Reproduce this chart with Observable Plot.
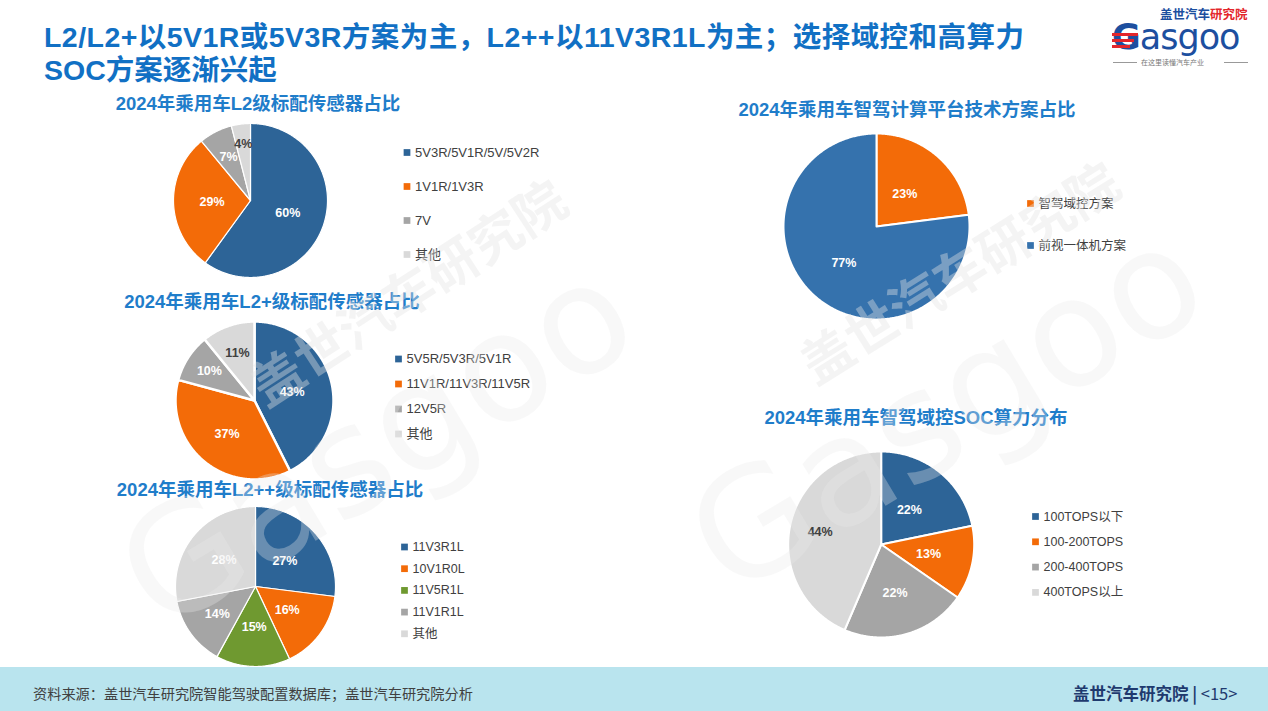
<!DOCTYPE html>
<html><head><meta charset="utf-8">
<script src="https://cdn.jsdelivr.net/npm/d3@7"></script>
<script src="https://cdn.jsdelivr.net/npm/@observablehq/plot@0.6"></script>
<style>
html,body{margin:0;padding:0;background:#fff;}
#page{position:relative;width:1268px;height:711px;overflow:hidden;font-family:"Liberation Sans","Noto Sans CJK SC",sans-serif;background:#fff;}
.abs{position:absolute;white-space:nowrap;}
.main{left:44px;font-size:28.5px;font-weight:bold;color:#1170C4;line-height:33px;}
.sub{font-size:18.5px;font-weight:bold;color:#1F7DCA;transform:translateX(-50%);line-height:22px;}
.panel{position:absolute;}
.wm{position:absolute;white-space:nowrap;color:rgba(228,228,228,0.40);transform-origin:0 0;pointer-events:none;line-height:1;}
#footer{position:absolute;left:0;top:667px;width:1268px;height:44px;background:#B9E4EE;}
</style></head>
<body><div id="page">
  <div class="abs main" style="top:21px;letter-spacing:0.45px;">L2/L2+以5V1R或5V3R方案为主，L2++以11V3R1L为主；选择域控和高算力</div>
  <div class="abs main" style="top:54px;">SOC方案逐渐兴起</div>

  <div class="abs" style="left:1160px;top:8px;font-size:12.5px;line-height:12.5px;font-weight:bold;font-family:'Noto Sans CJK SC';"><span style="color:#1D4F9F">盖世汽车</span><span style="color:#E3262B">研究院</span></div>
  <div class="abs" style="left:1112px;top:23px;font-size:35px;color:#1D4F9F;font-family:'DejaVu Sans';letter-spacing:-1px;line-height:28px;"><span style="font-weight:bold;">G</span>asgoo</div>
  <div class="abs" style="left:1112px;top:33px;width:26px;height:3px;background:#E3262B;"></div>
  <div class="abs" style="left:1112px;top:39px;width:22px;height:3px;background:#E3262B;"></div>
  <div class="abs" style="left:1112px;top:45px;width:18px;height:3px;background:#E3262B;"></div>
  <div class="abs" style="left:1113px;top:62px;width:24px;height:1px;background:#999;"></div>
  <div class="abs" style="left:1141px;top:58px;font-size:7px;line-height:9px;color:#777;font-family:'Noto Sans CJK SC';">在这里读懂汽车产业</div>
  <div class="abs" style="left:1224px;top:62px;width:24px;height:1px;background:#999;"></div>

  <div class="abs sub" style="left:258px;top:93px;">2024年乘用车L2级标配传感器占比</div>
  <div class="abs sub" style="left:272px;top:291px;">2024年乘用车L2+级标配传感器占比</div>
  <div class="abs sub" style="left:270px;top:479px;">2024年乘用车L2++级标配传感器占比</div>
  <div class="abs sub" style="left:907px;top:99px;">2024年乘用车智驾计算平台技术方案占比</div>
  <div class="abs sub" style="left:916px;top:407px;">2024年乘用车智驾域控SOC算力分布</div>

  <div id="p1" class="panel" style="left:160px;top:115px;"></div>
  <div id="p2" class="panel" style="left:160px;top:315px;"></div>
  <div id="p3" class="panel" style="left:160px;top:500px;"></div>
  <div id="p4" class="panel" style="left:760px;top:120px;"></div>
  <div id="p5" class="panel" style="left:760px;top:440px;"></div>

  <div class="wm" style="left:240px;top:368px;font-size:52px;font-weight:bold;transform:rotate(-33deg);font-family:'Noto Sans CJK SC';">盖世汽车研究院</div>
  <div class="wm" style="left:790px;top:345px;font-size:52px;font-weight:bold;transform:rotate(-32deg);font-family:'Noto Sans CJK SC';">盖世汽车研究院</div>
  <div class="wm" style="left:95px;top:525px;font-size:150px;transform:rotate(-31deg);font-family:'DejaVu Sans';color:rgba(232,232,232,0.32);">Gasgoo</div>
  <div class="wm" style="left:665px;top:490px;font-size:150px;transform:rotate(-31deg);font-family:'DejaVu Sans';color:rgba(232,232,232,0.32);">Gasgoo</div>

  <div id="footer"></div>
  <div class="abs" style="left:33px;top:683px;font-size:14.2px;color:#404040;font-family:'Noto Sans CJK SC';">资料来源：盖世汽车研究院智能驾驶配置数据库；盖世汽车研究院分析</div>
  <div class="abs" style="left:1073px;top:681px;font-size:16.5px;color:#1F3A6E;font-family:'Noto Sans CJK SC';"><b>盖世汽车研究院</b> <b>|</b> &lt;15&gt;</div>
</div>
<script>
// ---- data ----
const l2Categories = ["5V3R/5V1R/5V/5V2R", "1V1R/1V3R", "7V", "其他"];
const l2Values = [60, 29, 7, 4];

const l2PlusCategories = ["5V5R/5V3R/5V1R", "11V1R/11V3R/11V5R", "12V5R", "其他"];
const l2PlusValues = [43, 37, 10, 11];

const l2PPCategories = ["11V3R1L", "10V1R0L", "11V5R1L", "11V1R1L", "其他"];
const l2PPValues = [27, 16, 15, 14, 28];

const platformCategories = ["智驾域控方案", "前视一体机方案"];
const platformValues = [23, 77];

const socCategories = ["100TOPS以下", "100-200TOPS", "200-400TOPS", "400TOPS以上"];
const socValues = [22, 13, 22, 44];

// ---- styles ----
const BLUE = "#2D6497", BLUE2 = "#3572AD", ORANGE = "#F36B08", GRAY = "#A5A5A5", LIGHT = "#D9D9D9", GREEN = "#6F9930";
const W = "#ffffff", DK = "#404040";

function pieChart(el, o) {
  const arcs = d3.pie().sort(null).value(d => d)(o.values);
  const pts = [];
  arcs.forEach((a, i) => {
    const n = Math.max(4, Math.ceil((a.endAngle - a.startAngle) / 0.01));
    pts.push({k: i, x: o.cx, y: o.cy});
    for (let j = 0; j <= n; j++) {
      const t = a.startAngle + (a.endAngle - a.startAngle) * j / n;
      pts.push({k: i, x: o.cx + o.r * Math.sin(t), y: o.cy - o.r * Math.cos(t)});
    }
  });
  const lab = arcs.map((a, i) => {
    const m = (a.startAngle + a.endAngle) / 2, f = o.labelRadius[i];
    return {x: o.cx + f * o.r * Math.sin(m), y: o.cy - f * o.r * Math.cos(m), t: a.data + "%", c: o.labelColors[i]};
  });
  const leg = o.categories.map((c, i) => ({c, i}));
  const chart = Plot.plot({
    width: o.width, height: o.height, margin: 0,
    x: {domain: [0, o.width], range: [0, o.width], axis: null},
    y: {domain: [0, o.height], range: [0, o.height], axis: null},
    style: {fontFamily: "'Liberation Sans','Noto Sans CJK SC',sans-serif", overflow: "visible", background: "transparent"},
    marks: [
      Plot.line(pts, {x: "x", y: "y", z: "k", fill: d => o.colors[d.k], stroke: "white", strokeWidth: o.gap, curve: "linear-closed", strokeLinejoin: "round"}),
      Plot.text(lab, {x: "x", y: "y", text: "t", fill: "c", fontWeight: "bold", fontSize: 12.5}),
      Plot.dot(leg, {x: d => o.legendX, y: d => o.legendY + d.i * o.legendStep, symbol: "square", r: 3.8, fill: d => o.colors[d.i], stroke: null}),
      Plot.text(leg, {x: d => o.legendX + 8, y: d => o.legendY + d.i * o.legendStep, text: "c", textAnchor: "start", fill: "#404040", fontSize: o.fontSize})
    ]
  });
  document.getElementById(el).appendChild(chart);
}

pieChart("p1", {categories: l2Categories, values: l2Values, colors: [BLUE, ORANGE, GRAY, LIGHT],
  labelColors: [W, W, W, DK], labelRadius: [0.51, 0.5, 0.63, 0.74],
  width: 420, height: 175, cx: 90, cy: 85, r: 77, gap: 1.2,
  legendX: 246.5, legendY: 37, legendStep: 34, fontSize: 13});

pieChart("p2", {categories: l2PlusCategories, values: l2PlusValues, colors: [BLUE, ORANGE, GRAY, LIGHT],
  labelColors: [W, W, W, DK], labelRadius: [0.49, 0.55, 0.68, 0.64],
  width: 420, height: 175, cx: 94, cy: 85, r: 79, gap: 2.5,
  legendX: 238, legendY: 43.5, legendStep: 25, fontSize: 13});

pieChart("p3", {categories: l2PPCategories, values: l2PPValues, colors: [BLUE, ORANGE, GREEN, GRAY, LIGHT],
  labelColors: [W, W, W, W, W], labelRadius: [0.49, 0.49, 0.51, 0.59, 0.51],
  width: 420, height: 170, cx: 95, cy: 86, r: 80, gap: 1.2,
  legendX: 244, legendY: 46.5, legendStep: 21.7, fontSize: 12.5});

pieChart("p4", {categories: platformCategories, values: platformValues, colors: [ORANGE, BLUE2],
  labelColors: [W, W], labelRadius: [0.46, 0.53],
  width: 400, height: 210, cx: 116, cy: 106, r: 93, gap: 2,
  legendX: 270, legendY: 83, legendStep: 42, fontSize: 12.5});

pieChart("p5", {categories: socCategories, values: socValues, colors: [BLUE, ORANGE, GRAY, LIGHT],
  labelColors: [W, W, W, DK], labelRadius: [0.48, 0.52, 0.54, 0.67],
  width: 400, height: 205, cx: 120.7, cy: 104, r: 93, gap: 2,
  legendX: 275, legendY: 76, legendStep: 25.3, fontSize: 12.5});
</script>
</body></html>
